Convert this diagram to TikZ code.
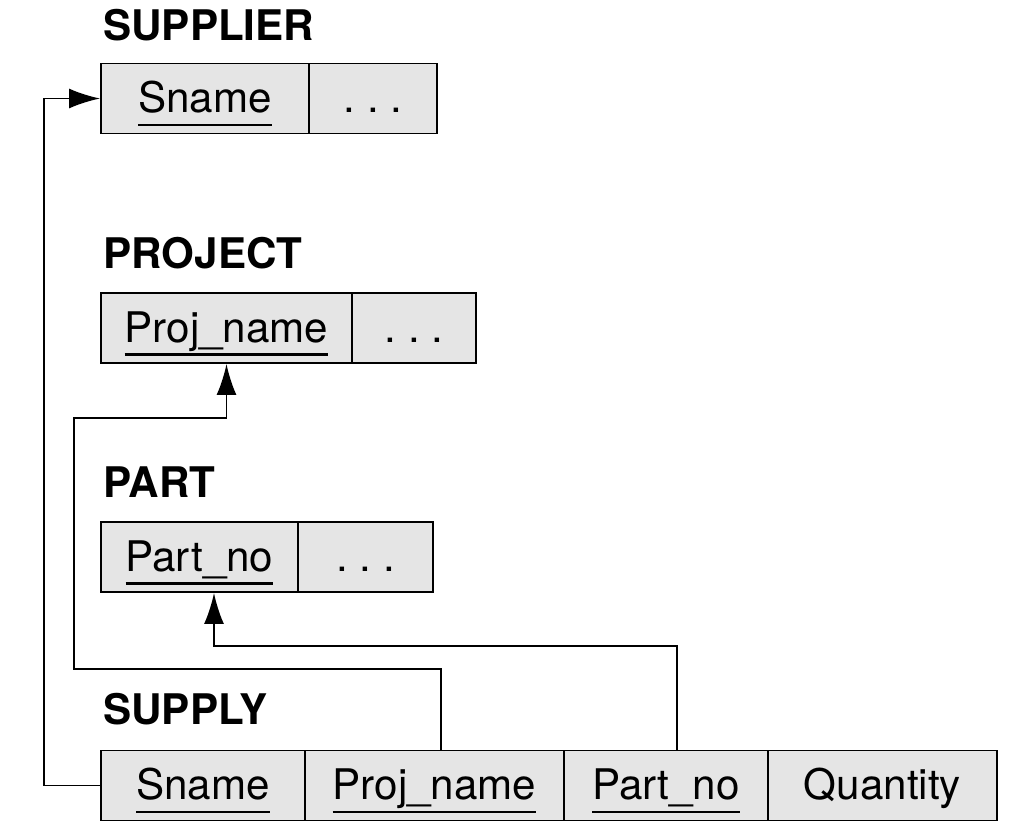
\documentclass[tikz,border=0pt]{standalone}
\usepackage{fontspec}
\setmainfont{TeX Gyre Heros}
\usepackage{xcolor}
\usetikzlibrary{arrows.meta,calc}
\definecolor{cellgray}{gray}{0.9}
\newcommand{\keyattr}[1]{\vtop{\hbox{#1\vphantom{j}}\kern1.2pt\hrule height 1.4pt}}
\tikzset{
cellv1/.style={rectangle, draw=black!100,fill=cellgray,line width=1.1pt, inner sep=0pt, minimum height= 1.4cm, text height=0.7cm, text depth=0.14cm, font=\fontsize{24}{28}\selectfont},
titlenode/.style={anchor=base west, inner sep=0pt, font=\fontsize{24}{28}\selectfont\bfseries},
linkv1/.style={line width=1.1pt, black, -{Latex[length=6.2mm,width=4mm]}},
}
\begin{document}
\begin{tikzpicture}[x=0.02cm,y=-0.02cm]
        \useasboundingbox (0,0) rectangle (1036,832);

        \node[titlenode] at (103,40) (tsp) {SUPPLIER};
        \node[cellv1, minimum width=4.16cm] at (205,98.5) (sp1) {\keyattr{Sname}};
        \node[cellv1, minimum width=2.56cm] at (373,98.5) (sp2) {.\ .\ .};

        \node[titlenode] at (103,268) (tpj) {PROJECT};
        \node[cellv1, minimum width=5.02cm] at (226.5,328) (pj1) {\keyattr{Proj\_name}};
        \node[cellv1, minimum width=2.48cm] at (414,328) (pj2) {.\ .\ .};

        \node[titlenode] at (103,497) (tpt) {PART};
        \node[cellv1, minimum width=3.94cm] at (199.5,557) (pt1) {\keyattr{Part\_no}};
        \node[cellv1, minimum width=2.70cm] at (365.5,557) (pt2) {.\ .\ .};

        \node[titlenode] at (103,724) (tsy) {SUPPLY};
        \node[cellv1, minimum width=4.08cm] at (203,785.5) (sy1) {\keyattr{Sname}};
        \node[cellv1, minimum width=5.18cm] at (434.5,785.5) (sy2) {\keyattr{Proj\_name}};
        \node[cellv1, minimum width=4.08cm] at (666,785.5) (sy3) {\keyattr{Part\_no}};
        \node[cellv1, minimum width=4.58cm] at (882.5,785.5) (sy4) {Quantity};

        \draw[linkv1] (sy1.west) -- ++(-56,0) |- (sp1.west);
        \draw[linkv1] ([xshift=1.3mm]sy2.north) |- (74,669) |- ($(pj1.south)+(0,54)$) -- (pj1.south);
        \draw[linkv1] ([xshift=2.2mm]sy3.north) |- ($([xshift=2.9mm]pt1.south)+(0,53)$) -- ([xshift=2.9mm]pt1.south);
    \end{tikzpicture}
\end{document}
